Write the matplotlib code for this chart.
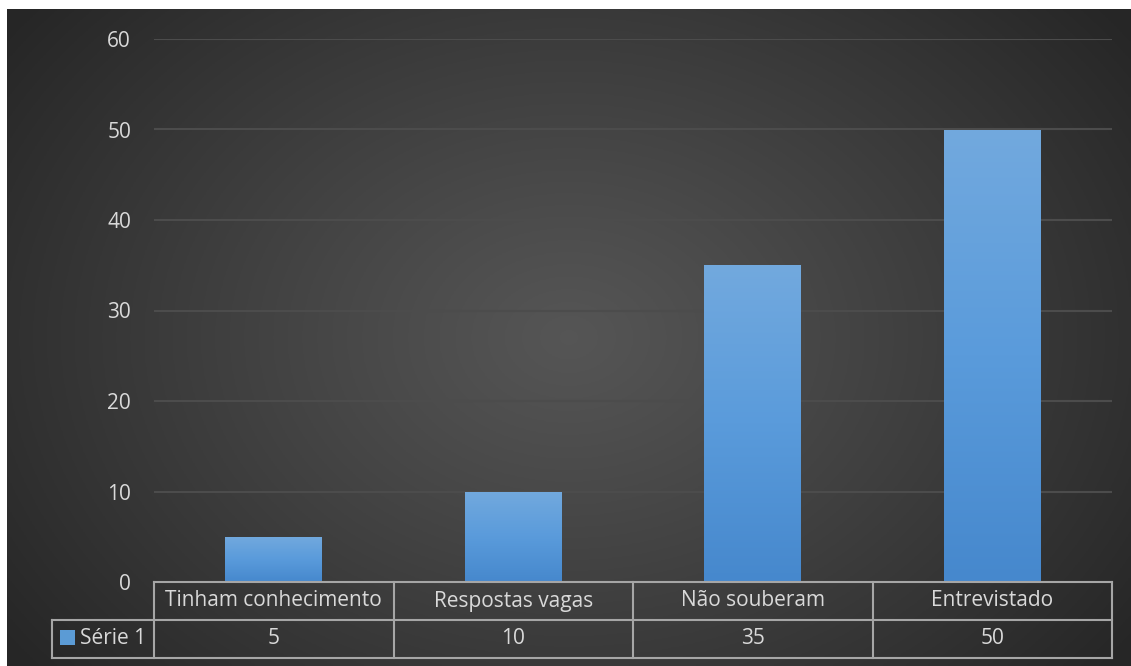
import numpy as np
import matplotlib.pyplot as plt
import matplotlib.transforms as mtransforms
from matplotlib.colors import LinearSegmentedColormap
from matplotlib.patches import Patch

# Dados
categorias = ["Tinham conhecimento", "Respostas vagas", "Não souberam", "Entrevistado"]
valores = [5, 10, 35, 50]
serie = "Série 1"
yticks = [0, 10, 20, 30, 40, 50, 60]

texto_cor = "#d9d9d9"
borda_cor = "#a6a6a6"
plt.rcParams["font.family"] = ["Open Sans", "DejaVu Sans"]

W, H = 1131, 666
fig = plt.figure(figsize=(W / 100, H / 100), dpi=100, facecolor="white")

# Fundo com degradê radial
bg = fig.add_axes([7 / W, 0, 1 - 7 / W, 1 - 9 / H])
bg.set_axis_off()
xx, yy = np.meshgrid(np.linspace(0, 1, 400), np.linspace(0, 1, 240))
r = np.sqrt(((xx - 0.5) / 0.62) ** 2 + ((yy - 0.5) / 0.8) ** 2)
val = 0.335 - 0.185 * np.clip(r, 0, 1) ** 1.1
bg.imshow(np.dstack([val, val, val]), aspect="auto", extent=[0, 1, 0, 1])
bg.set_xlim(0, 1)
bg.set_ylim(0, 1)

# Área do gráfico
ax = fig.add_axes([154 / W, 84 / H, 958 / W, 543 / H])
ax.set_facecolor("none")
n = len(categorias)
x = np.arange(n)
bars = ax.bar(x, valores, width=0.405, color="none", zorder=3)

cmap_bar = LinearSegmentedColormap.from_list("barra", ["#4688cd", "#5a9bdb", "#72a9de"])
grad = np.linspace(0, 1, 256).reshape(-1, 1)
for b in bars:
    x0, w, h = b.get_x(), b.get_width(), b.get_height()
    im = ax.imshow(grad, cmap=cmap_bar, origin="lower", aspect="auto",
                   extent=[x0, x0 + w, 0, h], zorder=3)
    im.set_clip_path(b)

ax.set_xlim(-0.5, n - 0.5)
ax.set_ylim(0, 60)
ax.set_yticks(yticks)
ax.set_xticks([])
for s in ax.spines.values():
    s.set_visible(False)
ax.tick_params(axis="y", length=0, pad=16.5, labelsize=15, labelcolor=texto_cor)
for t in yticks[1:]:
    ax.axhline(t, color="#4c4c4c", lw=1.5, zorder=1)

# Tabela de dados (x em dados, y em fração do eixo)
trans = mtransforms.blended_transform_factory(ax.transData, ax.transAxes)
h1 = 38 / 543            # altura de cada linha da tabela
xl = -0.5 - 102 / 239.5  # borda esquerda da coluna de rótulo
y0, y1, y2 = 0, -h1, -2 * h1
kw = dict(color=borda_cor, lw=1.5, transform=trans, clip_on=False, zorder=4)
ax.plot([-0.5, n - 0.5], [y0, y0], **kw)
ax.plot([xl, n - 0.5], [y1, y1], **kw)
ax.plot([xl, n - 0.5], [y2, y2], **kw)
ax.plot([xl, xl], [y1, y2], **kw)
for b in np.arange(n + 1) - 0.5:
    ax.plot([b, b], [y0, y2], **kw)
for i, (c, v) in enumerate(zip(categorias, valores)):
    ax.text(i, -h1 / 2, c, ha="center", va="center", fontsize=15,
            color=texto_cor, transform=trans, clip_on=False)
    ax.text(i, -1.5 * h1, str(v), ha="center", va="center", fontsize=15,
            color=texto_cor, transform=trans, clip_on=False)

# Chave da legenda na célula de rótulo
leg = ax.legend(handles=[Patch(facecolor="#5b9bd5", label=serie)],
                loc="center", bbox_to_anchor=((xl - 0.5) / 2, -1.5 * h1),
                bbox_transform=trans,
                frameon=False, fontsize=15, handlelength=0.75, handleheight=0.75,
                handletextpad=0.25, borderpad=0, borderaxespad=0,
                labelcolor=texto_cor)

fig.savefig("out.png", dpi=100, facecolor=fig.get_facecolor())
